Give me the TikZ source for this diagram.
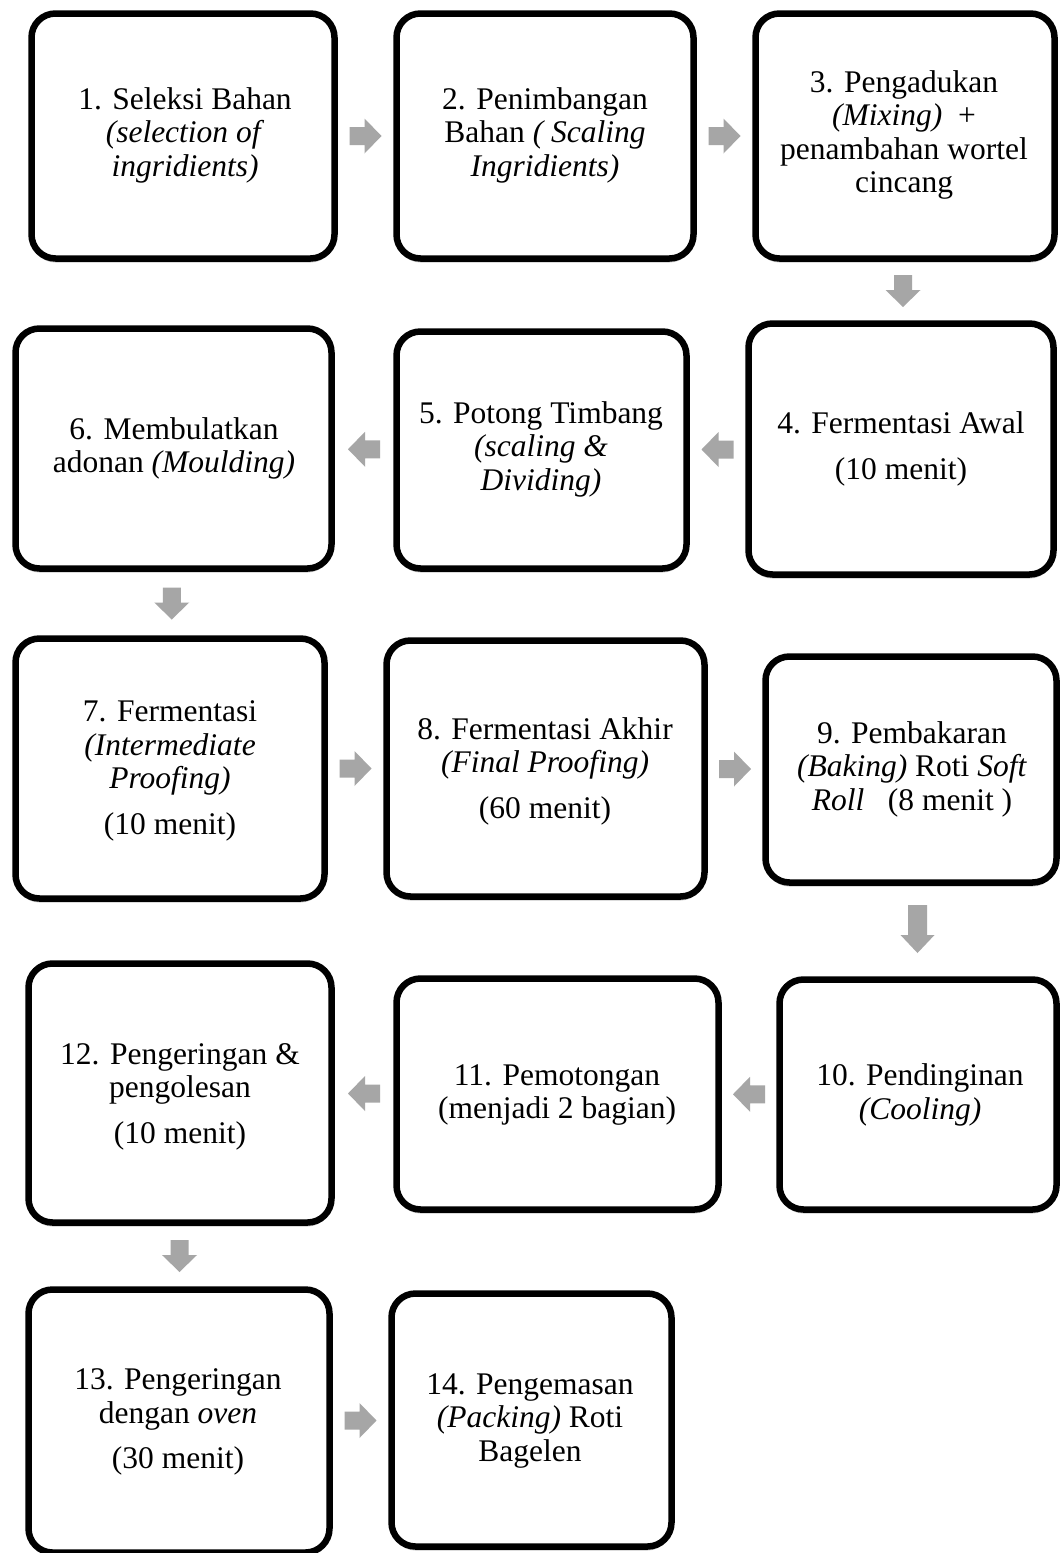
\documentclass[tikz,border=0pt]{standalone}
\usepackage{fontspec}
\setmainfont{Liberation Serif}
\usetikzlibrary{calc,shadows}
\definecolor{arrowgray}{HTML}{A6A6A6}
\begin{document}
\begin{tikzpicture}[x=1pt,y=-1pt,
  stepbox/.style={draw=black,fill=white,line width=6.5pt,rounded corners=24pt,
    rectangle,inner sep=0pt,
    drop shadow={shadow xshift=0pt,shadow yshift=-4pt,opacity=0.22,fill=black}},
  txt/.style={align=center,inner sep=0pt,font=\fontsize{31.5}{33.5}\selectfont},
  blockarrow/.pic={\fill[arrowgray] (-16,-9) -- (-1,-9) -- (-1,-17.5) -- (16,0)
      -- (-1,17.5) -- (-1,9) -- (-16,9) -- cycle;},
  bigblockarrow/.pic={\fill[arrowgray] (-24,-9.5) -- (6,-9.5) -- (6,-17) -- (24,0)
      -- (6,17) -- (6,9.5) -- (-24,9.5) -- cycle;},
]
\useasboundingbox (0,0) rectangle (1063,1553);
\fill[white] (0,0) rectangle (1063,1553);

% boxes
\node[stepbox,minimum width=303pt,minimum height=245pt] (b1) at (183,136) {};
\node[stepbox,minimum width=297pt,minimum height=245pt] (b2) at (545,136) {};
\node[stepbox,minimum width=299pt,minimum height=245pt] (b3) at (905,136) {};
\node[stepbox,minimum width=305pt,minimum height=251pt] (b4) at (901,449) {};
\node[stepbox,minimum width=290pt,minimum height=237pt] (b5) at (541.5,450) {};
\node[stepbox,minimum width=316pt,minimum height=240pt] (b6) at (173.5,448.5) {};
\node[stepbox,minimum width=309pt,minimum height=260pt] (b7) at (170,768.5) {};
\node[stepbox,minimum width=318pt,minimum height=256pt] (b8) at (545.5,768.5) {};
\node[stepbox,minimum width=291pt,minimum height=226pt] (b9) at (911,769.5) {};
\node[stepbox,minimum width=277pt,minimum height=230pt] (b10) at (918,1094.5) {};
\node[stepbox,minimum width=322pt,minimum height=231pt] (b11) at (557.5,1094) {};
\node[stepbox,minimum width=303pt,minimum height=259pt] (b12) at (180,1093) {};
\node[stepbox,minimum width=301pt,minimum height=263pt] (b13) at (179,1421) {};
\node[stepbox,minimum width=280pt,minimum height=253pt] (b14) at (531.5,1420) {};

% texts
\node[txt] (t1) at (185,135) {1. Seleksi Bahan\\\textit{(selection of}\\\textit{ingridients)}};
\node[txt] (t2) at (545,135) {2. Penimbangan\\Bahan \textit{( Scaling}\\\textit{Ingridients)}};
\node[txt] (t3) at (904,135) {3. Pengadukan\\\textit{(Mixing)}~~+\\penambahan wortel\\cincang};
\node[txt] (t4) at (901,449) {4. Fermentasi Awal\\[12pt](10 menit)};
\node[txt] (t5) at (541,449) {5. Potong Timbang\\\textit{(scaling \&}\\\textit{Dividing)}};
\node[txt] (t6) at (174,448.5) {6. Membulatkan\\adonan \textit{(Moulding)}};
\node[txt] (t7) at (170,771) {7. Fermentasi\\\textit{(Intermediate}\\\textit{Proofing)}\\[12pt](10 menit)};
\node[txt] (t8) at (545,771) {8. Fermentasi Akhir\\\textit{(Final Proofing)}\\[12pt](60 menit)};
\node[txt] (t9) at (912,769) {9. Pembakaran\\\textit{(Baking)} Roti \textit{Soft}\\\textit{Roll}~~~(8 menit )};
\node[txt] (t10) at (920,1095) {10. Pendinginan\\\textit{(Cooling)}};
\node[txt] (t11) at (557,1095) {11. Pemotongan\\(menjadi 2 bagian)};
\node[txt] (t12) at (180,1096.5) {12. Pengeringan \&\\pengolesan\\[12pt](10 menit)};
\node[txt] (t13) at (178,1422) {13. Pengeringan\\dengan \textit{oven}\\[12pt](30 menit)};
\node[txt] (t14) at (530,1420.5) {14. Pengemasan\\\textit{(Packing)} Roti\\Bagelen};

% block arrows, placed midway between the boxes they join
\coordinate (a12) at ($(b1.east)!0.5!(b2.west)$);
\coordinate (a23) at ($(b2.east)!0.5!(b3.west)$);
\coordinate (a34) at ($(b3.south)!0.5!(b4.north)$);
\coordinate (a45) at ($(b4.west)!0.5!(b5.east)$);
\coordinate (a56) at ($(b5.west)!0.5!(b6.east)$);
\coordinate (a67) at ($(b6.south)!0.5!(b7.north)$);
\coordinate (a78) at ($(b7.east)!0.5!(b8.west)$);
\coordinate (a89) at ($(b8.east)!0.5!(b9.west)$);
\coordinate (a910) at ($(b9.south)!0.5!(b10.north)+(3,-2)$);
\coordinate (a1011) at ($(b10.west)!0.5!(b11.east)$);
\coordinate (a1112) at ($(b11.west)!0.5!(b12.east)$);
\coordinate (a1213) at ($(b12.south)!0.5!(b13.north)$);
\coordinate (a1314) at ($(b13.east)!0.5!(b14.west)$);

\pic at (a12) {blockarrow};
\pic at (a23) {blockarrow};
\pic[rotate=-90] at (a34) {blockarrow};
\pic[rotate=180] at (a45) {blockarrow};
\pic[rotate=180] at (a56) {blockarrow};
\pic[rotate=-90] at (a67) {blockarrow};
\pic at (a78) {blockarrow};
\pic at (a89) {blockarrow};
\pic[rotate=-90] at (a910) {bigblockarrow};
\pic[rotate=180] at (a1011) {blockarrow};
\pic[rotate=180] at (a1112) {blockarrow};
\pic[rotate=-90] at (a1213) {blockarrow};
\pic at (a1314) {blockarrow};
\end{tikzpicture}
\end{document}
